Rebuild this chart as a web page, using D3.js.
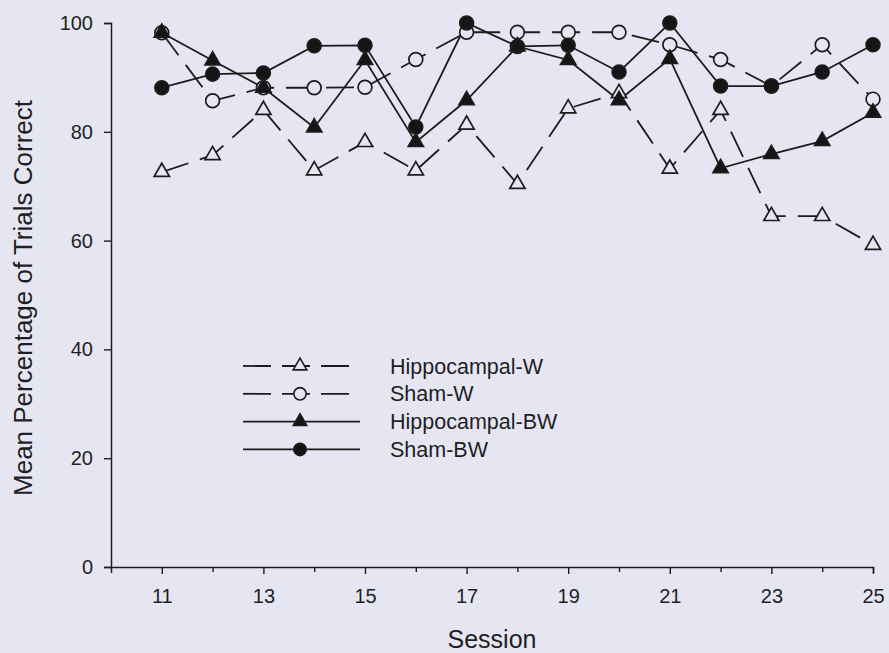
<!DOCTYPE html>
<html>
<head>
<meta charset="utf-8">
<script src="https://cdn.jsdelivr.net/npm/d3@7"></script>
<style>
  html, body { margin: 0; padding: 0; background: #e6e6f3; }
  svg { display: block; }
  text { font-family: "Liberation Sans", Arial, Helvetica, sans-serif; fill: #1f1f1f; }
</style>
</head>
<body>
<svg id="chart" width="889" height="653"></svg>
<script>
// Sessions and group means (percentage of trials correct)
const sessions = [11, 12, 13, 14, 15, 16, 17, 18, 19, 20, 21, 22, 23, 24, 25];
const hippocampalW  = [72.6, 75.7, 84.0, 72.9, 78.1, 72.9, 81.3, 70.4, 84.3, 87.1, 73.2, 84.0, 64.5, 64.5, 59.2];
const shamW         = [98.2, 85.7, 88.1, 88.1, 88.2, 93.3, 98.3, 98.3, 98.3, 98.3, 96.0, 93.3, 88.4, 96.0, 86.0];
const hippocampalBW = [98.2, 93.1, 88.1, 80.8, 93.2, 78.1, 85.8, 95.7, 93.2, 85.8, 93.4, 73.3, 75.9, 78.3, 83.5];
const shamBW        = [88.1, 90.6, 90.8, 95.8, 95.9, 80.9, 100, 95.7, 95.9, 91.0, 100, 88.4, 88.4, 91.0, 96.0];

const groupNames = ["Hippocampal-W", "Sham-W", "Hippocampal-BW", "Sham-BW"];
const yTicks = [0, 20, 40, 60, 80, 100];
const xTickLabels = [11, 13, 15, 17, 19, 21, 23, 25];

const bg = "#e6e6f3";
const ink = "#1c1c1c";

const svg = d3.select("#chart");

const x = d3.scaleLinear().domain([10, 25]).range([111, 873]);
const y = d3.scaleLinear().domain([0, 100]).range([567, 23]);

// Series definitions: dashed for W groups, solid for BW groups
const series = [
  { name: groupNames[0], values: hippocampalW,  shape: d3.symbolTriangle, filled: false, dashed: true },
  { name: groupNames[1], values: shamW,         shape: d3.symbolCircle,   filled: false, dashed: true },
  { name: groupNames[3], values: shamBW,        shape: d3.symbolCircle,   filled: true,  dashed: false },
  { name: groupNames[2], values: hippocampalBW, shape: d3.symbolTriangle, filled: true,  dashed: false }
];

const symSize = s => (s === d3.symbolCircle ? 150 : 100);

// Axes
const yAxis = d3.axisLeft(y).tickValues(yTicks).tickSize(7).tickPadding(11).tickFormat(d3.format("d"));
const gy = svg.append("g").attr("transform", `translate(${x(10)},0)`).call(yAxis);
gy.select(".domain").attr("stroke", ink).attr("stroke-width", 1.5);
gy.selectAll(".tick line").attr("stroke", ink).attr("stroke-width", 1.4);
gy.selectAll(".tick text").attr("font-size", 20).attr("fill", "#1f1f1f")
  .attr("font-family", "Liberation Sans, Arial, sans-serif");

const xAxis = d3.axisBottom(x).tickValues(d3.range(11, 26)).tickSize(6).tickPadding(0)
  .tickFormat(d => xTickLabels.includes(d) ? d : "");
const gx = svg.append("g").attr("transform", `translate(0,${y(0)})`).call(xAxis);
gx.select(".domain").attr("stroke", ink).attr("stroke-width", 1.5);
gx.selectAll(".tick line").attr("stroke", ink).attr("stroke-width", 1.4)
  .attr("y2", d => (d % 2 === 1 ? 7 : 5));
gx.selectAll(".tick text").attr("font-size", 20).attr("fill", "#1f1f1f")
  .attr("font-family", "Liberation Sans, Arial, sans-serif")
  .attr("y", 36).attr("dy", 0);

// Axis titles
svg.append("text")
  .attr("transform", `translate(32,298) rotate(-90)`)
  .attr("text-anchor", "middle")
  .attr("font-size", 26)
  .text("Mean Percentage of Trials Correct");

svg.append("text")
  .attr("x", 492).attr("y", 648)
  .attr("text-anchor", "middle")
  .attr("font-size", 25)
  .text("Session");

// Lines
const line = d3.line().x((d, i) => x(sessions[i])).y(d => y(d));
const plot = svg.append("g");
series.forEach(s => {
  plot.append("path")
    .datum(s.values)
    .attr("d", line)
    .attr("fill", "none")
    .attr("stroke", ink)
    .attr("stroke-width", 1.8)
    .attr("stroke-dasharray", s.dashed ? "28,12" : null);
});

// Markers
series.forEach(s => {
  plot.append("g").selectAll("path")
    .data(s.values)
    .join("path")
    .attr("transform", (d, i) => `translate(${x(sessions[i])},${y(d)})`)
    .attr("d", d3.symbol().type(s.shape).size(symSize(s.shape)))
    .attr("fill", s.filled ? "#151515" : bg)
    .attr("stroke", ink)
    .attr("stroke-width", 1.7);
});

// Legend
const legendItems = [
  { name: groupNames[0], shape: d3.symbolTriangle, filled: false, dashed: true },
  { name: groupNames[1], shape: d3.symbolCircle,   filled: false, dashed: true },
  { name: groupNames[2], shape: d3.symbolTriangle, filled: true,  dashed: false },
  { name: groupNames[3], shape: d3.symbolCircle,   filled: true,  dashed: false }
];
const legend = svg.append("g");
legendItems.forEach((it, i) => {
  const ly = 366 + i * 27.8;
  legend.append("line")
    .attr("x1", 243).attr("x2", it.dashed ? 349 : 360).attr("y1", ly).attr("y2", ly)
    .attr("stroke", ink).attr("stroke-width", 1.8)
    .attr("stroke-dasharray", it.dashed ? "28,11" : null);
  legend.append("path")
    .attr("transform", `translate(300,${ly})`)
    .attr("d", d3.symbol().type(it.shape).size(it.shape === d3.symbolCircle ? 120 : 80))
    .attr("fill", it.filled ? "#151515" : bg)
    .attr("stroke", ink).attr("stroke-width", 1.6);
  legend.append("text")
    .attr("x", 390).attr("y", ly + 7.5)
    .attr("font-size", 21.5)
    .text(it.name);
});
</script>
</body>
</html>
